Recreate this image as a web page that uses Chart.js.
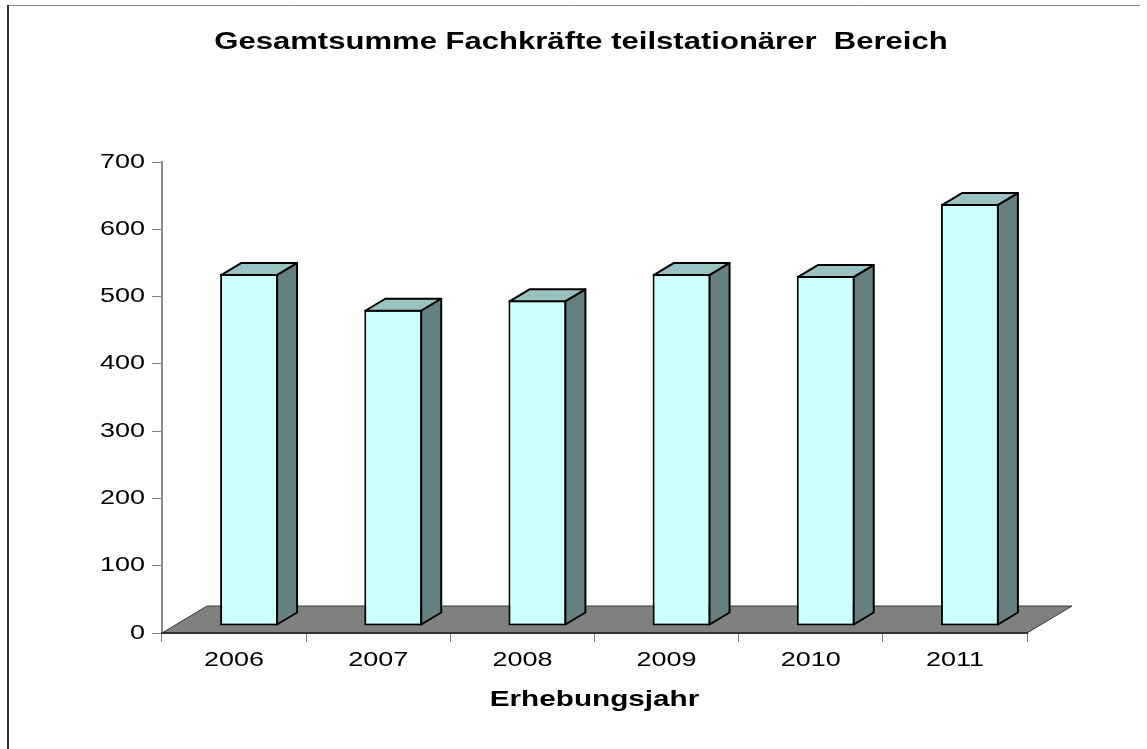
<!DOCTYPE html>
<html lang="de">
<head>
<meta charset="utf-8">
<title>Gesamtsumme Fachkräfte teilstationärer Bereich</title>
<script src="https://cdn.jsdelivr.net/npm/chart.js@4.4.0/dist/chart.umd.min.js"></script>
<style>
  html, body { margin: 0; padding: 0; background: #fff; }
  #wrap { width: 1147px; height: 749px; }
</style>
</head>
<body>
<div id="wrap"><canvas id="chart" width="1147" height="749"></canvas></div>
<script>
const years = ['2006', '2007', '2008', '2009', '2010', '2011'];
const fachkraefte = [523, 470, 484, 523, 520, 627];
const yTicks = [0, 100, 200, 300, 400, 500, 600, 700];

const FONT = "'Liberation Sans', Arial, sans-serif";

// fake 3D look, in pixels
const floorDepth = { dx: 45, dy: -27 };
const barDepth = { dx: 20, dy: -12 };
const barShift = { dx: 15, dy: -7 };
const titleCenterX = 581;
const textStretch = 1.35; // the original lettering is drawn wide

const threeD = {
  id: 'threeD',
  afterLayout(chart) {
    // the Excel title is centred on the whole frame, not the plot
    const t = chart.titleBlock;
    if (t) {
      const shift = titleCenterX - (t.left + t.right) / 2;
      t.left += shift;
      t.right += shift;
    }
  },
  beforeDraw(chart) {
    const ctx = chart.ctx;
    if (!ctx.wideText) {
      const fill = ctx.fillText.bind(ctx);
      ctx.fillText = (text, x, y) => {
        ctx.save();
        ctx.translate(x, y);
        ctx.scale(textStretch, 1);
        fill(text, 0, 0);
        ctx.restore();
      };
      ctx.wideText = true;
    }
    ctx.save();
    ctx.fillStyle = '#fff';
    ctx.fillRect(0, 0, chart.width, chart.height);
    // outer frame (cut off at the right and bottom)
    ctx.strokeStyle = '#8a8a8a';
    ctx.lineWidth = 1;
    ctx.beginPath();
    ctx.moveTo(7, 5.5);
    ctx.lineTo(1140, 5.5);
    ctx.stroke();
    ctx.strokeStyle = '#333';
    ctx.lineWidth = 2;
    ctx.beginPath();
    ctx.moveTo(8, 5);
    ctx.lineTo(8, chart.height);
    ctx.stroke();
    ctx.restore();
  },
  beforeDatasetsDraw(chart) {
    const { ctx, chartArea: a } = chart;
    // floor
    ctx.save();
    ctx.beginPath();
    ctx.moveTo(a.left, a.bottom);
    ctx.lineTo(a.right, a.bottom);
    ctx.lineTo(a.right + floorDepth.dx, a.bottom + floorDepth.dy);
    ctx.lineTo(a.left + floorDepth.dx, a.bottom + floorDepth.dy);
    ctx.closePath();
    ctx.fillStyle = '#808080';
    ctx.fill();
    ctx.strokeStyle = '#3a3a3a';
    ctx.lineWidth = 1;
    ctx.stroke();
    ctx.restore();
    // bars stand a bit behind the front edge
    ctx.save();
    ctx.translate(barShift.dx, barShift.dy);
  },
  afterDatasetsDraw(chart) {
    const ctx = chart.ctx;
    chart.getDatasetMeta(0).data.forEach(bar => {
      const { x, y, base, width } = bar.getProps(['x', 'y', 'base', 'width'], true);
      const l = x - width / 2 + 1, r = x + width / 2 - 1;
      const t = y + 1, b = base - 1;
      const { dx, dy } = barDepth;
      ctx.lineWidth = 2;
      ctx.lineJoin = 'round';
      ctx.strokeStyle = '#000';
      // top face
      ctx.beginPath();
      ctx.moveTo(l, t);
      ctx.lineTo(l + dx, t + dy);
      ctx.lineTo(r + dx, t + dy);
      ctx.lineTo(r, t);
      ctx.closePath();
      ctx.fillStyle = '#99C3C3';
      ctx.fill();
      ctx.stroke();
      // side face
      ctx.beginPath();
      ctx.moveTo(r, t);
      ctx.lineTo(r + dx, t + dy);
      ctx.lineTo(r + dx, b + dy);
      ctx.lineTo(r, b);
      ctx.closePath();
      ctx.fillStyle = '#668080';
      ctx.fill();
      ctx.stroke();
    });
    ctx.restore();
  }
};

new Chart(document.getElementById('chart'), {
  type: 'bar',
  data: {
    labels: years,
    datasets: [{
      label: 'Fachkräfte',
      data: fachkraefte,
      backgroundColor: '#CCFFFF',
      borderColor: '#000',
      borderWidth: 2,
      borderSkipped: false,
      categoryPercentage: 1,
      barPercentage: 0.402
    }]
  },
  options: {
    responsive: false,
    animation: false,
    layout: { padding: { left: 95, right: 120, top: 29, bottom: 0 } },
    plugins: {
      legend: { display: false },
      tooltip: { enabled: false },
      title: {
        display: true,
        text: 'Gesamtsumme Fachkräfte teilstationärer  Bereich',
        color: '#000',
        font: { family: FONT, size: 23, weight: 'bold' },
        padding: { top: 0, bottom: 105.4 }
      }
    },
    scales: {
      x: {
        offset: true,
        grid: { display: true, drawOnChartArea: false, tickLength: 9, color: '#808080', offset: true },
        border: { display: true, color: '#333', width: 2, z: 1 },
        ticks: { color: '#000', font: { family: FONT, size: 20 }, padding: 6, z: 1, maxRotation: 0, autoSkip: false },
        title: {
          display: true,
          text: 'Erhebungsjahr',
          color: '#000',
          font: { family: FONT, size: 22, weight: 'bold' },
          padding: { top: 4, bottom: 35.8 }
        },
        afterFit(s) { s.height = 116; }
      },
      y: {
        min: 0,
        max: 700,
        afterBuildTicks(s) { s.ticks = yTicks.map(v => ({ value: v })); },
        grid: { drawOnChartArea: false, tickLength: 10, color: '#808080' },
        border: { color: '#8c8c8c', width: 2 },
        ticks: { color: '#000', font: { family: FONT, size: 20 }, padding: 7, z: 1 },
        afterFit(s) { s.width = 67; }
      }
    }
  },
  plugins: [threeD]
});
</script>
</body>
</html>
